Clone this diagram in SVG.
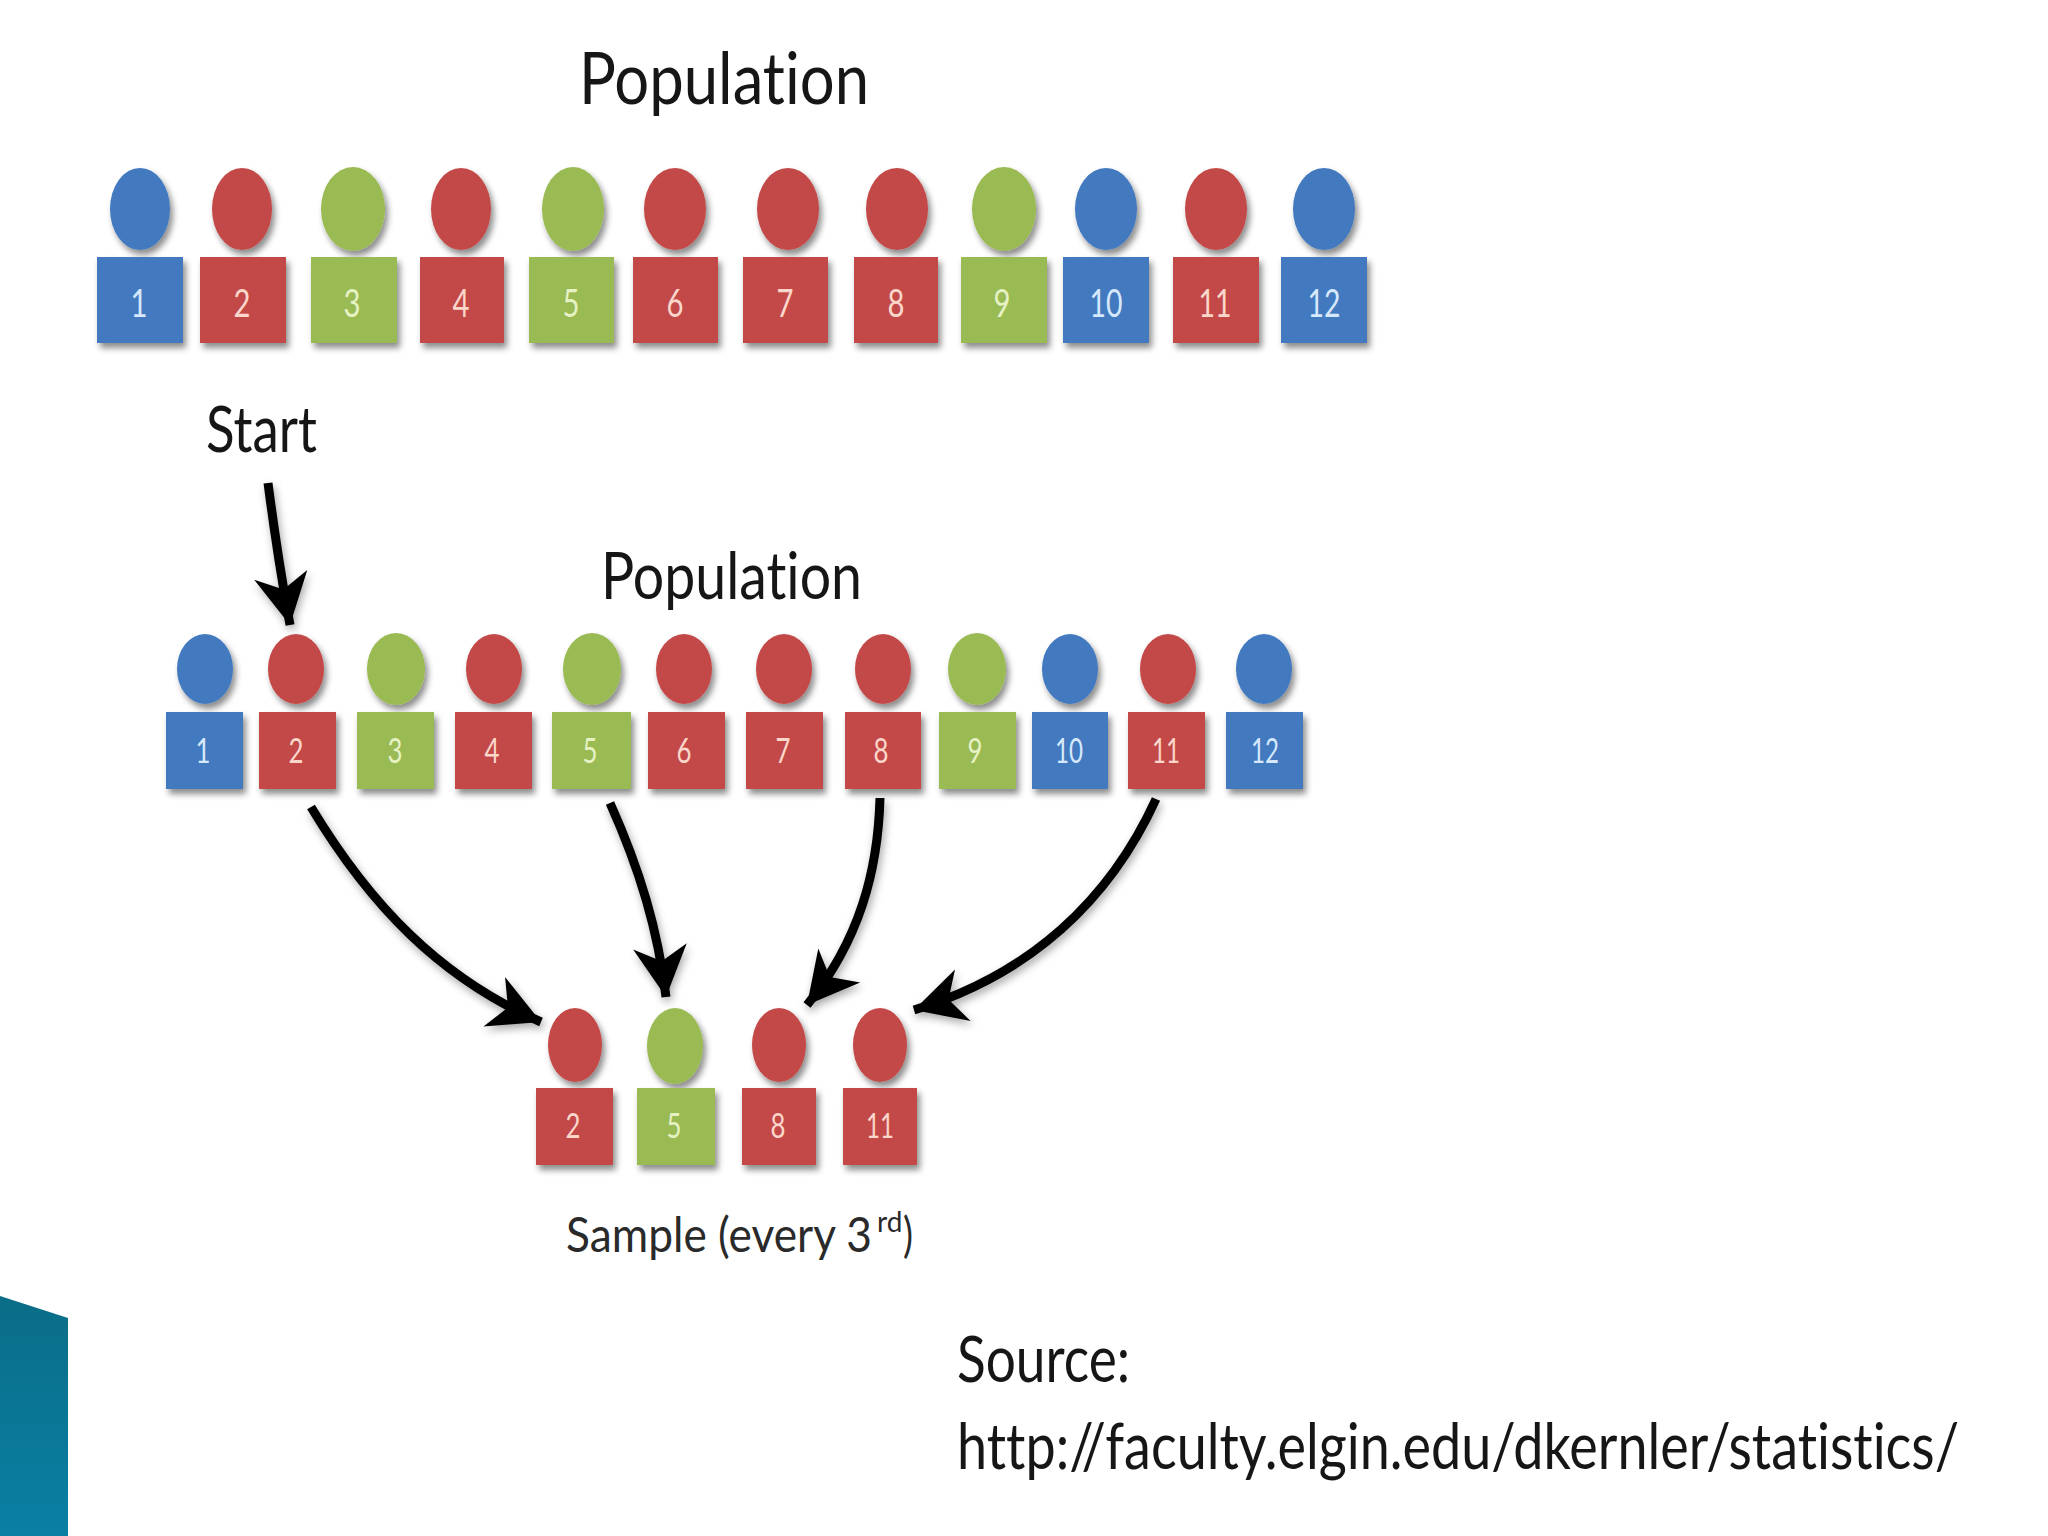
<svg xmlns="http://www.w3.org/2000/svg" width="2048" height="1536" viewBox="0 0 2048 1536">
<style>
text{font-family:"Lato","Liberation Sans",sans-serif;font-variant-ligatures:none}
.t{fill:#161616}
.b{fill:#4279bf}.r{fill:#c34a48}.g{fill:#9aba52}
.s{filter:url(#sh)}
.n{text-anchor:middle}
.a{font-size:38px}.c{font-size:34px}
.lb{fill:#d6e8fb}.lr{fill:#fbd6ca}.lg{fill:#e6f2c4}
.sm{fill:#2a2a2a}
.arr{fill:none;stroke:#000;stroke-width:9;stroke-linecap:butt;marker-end:url(#ah)}
</style>
<defs>
<filter id="sh" x="-20%" y="-20%" width="150%" height="150%"><feDropShadow dx="3" dy="5" stdDeviation="3" flood-color="#000" flood-opacity="0.45"/></filter>
<filter id="sh2" x="-5%" y="-5%" width="115%" height="115%"><feDropShadow dx="2" dy="4" stdDeviation="4" flood-color="#000" flood-opacity="0.35"/></filter>
<marker id="ah" markerUnits="userSpaceOnUse" markerWidth="70" markerHeight="70" refX="60" refY="35" orient="auto"><path d="M60 35L9 8L24 35L9 62Z" fill="#000"/></marker>
<linearGradient id="tl" x1="0" y1="0" x2="0" y2="1"><stop offset="0" stop-color="#0a6d88"/><stop offset="1" stop-color="#0a80a4"/></linearGradient>
</defs>
<rect width="2048" height="1536" fill="#fff"/>
<polygon id="corner" points="0,1296 68,1318 68,1536 0,1536" fill="url(#tl)"/>

<text id="title1" class="t" x="579" y="104" font-size="72" textLength="290" lengthAdjust="spacingAndGlyphs">Population</text>
<text id="start" class="t" x="206" y="452" font-size="64" textLength="111" lengthAdjust="spacingAndGlyphs">Start</text>
<text id="title2" class="t" x="601" y="599" font-size="66" textLength="261" lengthAdjust="spacingAndGlyphs">Population</text>
<text id="sample" class="sm" transform="translate(566 1252) scale(1 1.14)" font-size="42" textLength="306" lengthAdjust="spacingAndGlyphs">Sample (every 3</text>
<text id="sample-sup" class="sm" x="877" y="1232" font-size="28">rd</text>
<text id="sample-end" class="sm" x="903" y="1252" font-size="48" textLength="10" lengthAdjust="spacingAndGlyphs">)</text>
<text id="source1" class="t" x="957" y="1382" font-size="64" textLength="173" lengthAdjust="spacingAndGlyphs">Source:</text>
<text id="source2" class="t" transform="translate(957 1469) scale(.84 1)" font-size="64" textLength="1193" lengthAdjust="spacingAndGlyphs">http://faculty.elgin.edu/dkernler/statistics/</text>

<g id="connectors" filter="url(#sh2)">
<path class="arr" d="M268 483Q278 560 290 625"/>
<path class="arr" d="M311 807C370 905 440 978 541 1022"/>
<path class="arr" d="M610 803C640 870 658 930 666 997"/>
<path class="arr" d="M880 798C878 870 860 940 807 1005"/>
<path class="arr" d="M1156 799C1110 900 1030 975 914 1010"/>
</g>

<g id="row1" class="row">
<g id="a1"><ellipse class="b s" cx="140" cy="209" rx="30" ry="41"/><rect class="b s" x="97" y="257" width="86" height="86"/><text class="n a lb" x="139" y="317" textLength="17" lengthAdjust="spacingAndGlyphs">1</text></g>
<g id="a2"><ellipse class="r s" cx="242" cy="209" rx="30" ry="41"/><rect class="r s" x="200" y="257" width="86" height="86"/><text class="n a lr" x="242" y="317" textLength="17" lengthAdjust="spacingAndGlyphs">2</text></g>
<g id="a3"><ellipse class="g s" cx="353" cy="209" rx="32" ry="42"/><rect class="g s" x="311" y="257" width="86" height="86"/><text class="n a lg" x="352" y="317" textLength="17" lengthAdjust="spacingAndGlyphs">3</text></g>
<g id="a4"><ellipse class="r s" cx="461" cy="209" rx="30" ry="41"/><rect class="r s" x="420" y="257" width="84" height="86"/><text class="n a lr" x="461" y="317" textLength="17" lengthAdjust="spacingAndGlyphs">4</text></g>
<g id="a5"><ellipse class="g s" cx="573" cy="209" rx="31" ry="42"/><rect class="g s" x="529" y="257" width="85" height="86"/><text class="n a lg" x="571" y="317" textLength="17" lengthAdjust="spacingAndGlyphs">5</text></g>
<g id="a6"><ellipse class="r s" cx="675" cy="209" rx="31" ry="41"/><rect class="r s" x="633" y="257" width="85" height="86"/><text class="n a lr" x="675" y="317" textLength="17" lengthAdjust="spacingAndGlyphs">6</text></g>
<g id="a7"><ellipse class="r s" cx="788" cy="209" rx="31" ry="41"/><rect class="r s" x="743" y="257" width="85" height="86"/><text class="n a lr" x="785" y="317" textLength="17" lengthAdjust="spacingAndGlyphs">7</text></g>
<g id="a8"><ellipse class="r s" cx="897" cy="209" rx="31" ry="41"/><rect class="r s" x="854" y="257" width="84" height="86"/><text class="n a lr" x="896" y="317" textLength="17" lengthAdjust="spacingAndGlyphs">8</text></g>
<g id="a9"><ellipse class="g s" cx="1004" cy="209" rx="32" ry="42"/><rect class="g s" x="961" y="257" width="86" height="86"/><text class="n a lg" x="1002" y="317" textLength="17" lengthAdjust="spacingAndGlyphs">9</text></g>
<g id="a10"><ellipse class="b s" cx="1106" cy="209" rx="31" ry="41"/><rect class="b s" x="1063" y="257" width="86" height="86"/><text class="n a lb" x="1106" y="317" textLength="33" lengthAdjust="spacingAndGlyphs">10</text></g>
<g id="a11"><ellipse class="r s" cx="1216" cy="209" rx="31" ry="41"/><rect class="r s" x="1173" y="257" width="86" height="86"/><text class="n a lr" x="1215" y="317" textLength="33" lengthAdjust="spacingAndGlyphs">11</text></g>
<g id="a12"><ellipse class="b s" cx="1324" cy="209" rx="31" ry="41"/><rect class="b s" x="1281" y="257" width="86" height="86"/><text class="n a lb" x="1324" y="317" textLength="33" lengthAdjust="spacingAndGlyphs">12</text></g>
</g>

<g id="row2" class="row">
<g id="b1"><ellipse class="b s" cx="205" cy="669" rx="28" ry="35"/><rect class="b s" x="166" y="712" width="77" height="77"/><text class="n c lb" x="203" y="763" textLength="15" lengthAdjust="spacingAndGlyphs">1</text></g>
<g id="b2"><ellipse class="r s" cx="296" cy="669" rx="28" ry="35"/><rect class="r s" x="259" y="712" width="77" height="77"/><text class="n c lr" x="296" y="763" textLength="15" lengthAdjust="spacingAndGlyphs">2</text></g>
<g id="b3"><ellipse class="g s" cx="396" cy="669" rx="29" ry="36"/><rect class="g s" x="357" y="712" width="77" height="77"/><text class="n c lg" x="395" y="763" textLength="15" lengthAdjust="spacingAndGlyphs">3</text></g>
<g id="b4"><ellipse class="r s" cx="494" cy="669" rx="28" ry="35"/><rect class="r s" x="455" y="712" width="77" height="77"/><text class="n c lr" x="492" y="763" textLength="15" lengthAdjust="spacingAndGlyphs">4</text></g>
<g id="b5"><ellipse class="g s" cx="592" cy="669" rx="29" ry="36"/><rect class="g s" x="552" y="712" width="79" height="77"/><text class="n c lg" x="590" y="763" textLength="15" lengthAdjust="spacingAndGlyphs">5</text></g>
<g id="b6"><ellipse class="r s" cx="684" cy="669" rx="28" ry="35"/><rect class="r s" x="648" y="712" width="77" height="77"/><text class="n c lr" x="684" y="763" textLength="15" lengthAdjust="spacingAndGlyphs">6</text></g>
<g id="b7"><ellipse class="r s" cx="784" cy="669" rx="28" ry="35"/><rect class="r s" x="746" y="712" width="77" height="77"/><text class="n c lr" x="783" y="763" textLength="15" lengthAdjust="spacingAndGlyphs">7</text></g>
<g id="b8"><ellipse class="r s" cx="883" cy="669" rx="28" ry="35"/><rect class="r s" x="845" y="712" width="76" height="77"/><text class="n c lr" x="881" y="763" textLength="15" lengthAdjust="spacingAndGlyphs">8</text></g>
<g id="b9"><ellipse class="g s" cx="977" cy="669" rx="29" ry="36"/><rect class="g s" x="939" y="712" width="77" height="77"/><text class="n c lg" x="975" y="763" textLength="15" lengthAdjust="spacingAndGlyphs">9</text></g>
<g id="b10"><ellipse class="b s" cx="1070" cy="669" rx="28" ry="35"/><rect class="b s" x="1032" y="712" width="76" height="77"/><text class="n c lb" x="1069" y="763" textLength="28" lengthAdjust="spacingAndGlyphs">10</text></g>
<g id="b11"><ellipse class="r s" cx="1168" cy="669" rx="28" ry="35"/><rect class="r s" x="1128" y="712" width="77" height="77"/><text class="n c lr" x="1166" y="763" textLength="28" lengthAdjust="spacingAndGlyphs">11</text></g>
<g id="b12"><ellipse class="b s" cx="1264" cy="669" rx="28" ry="35"/><rect class="b s" x="1226" y="712" width="77" height="77"/><text class="n c lb" x="1265" y="763" textLength="28" lengthAdjust="spacingAndGlyphs">12</text></g>
</g>

<g id="row3" class="row">
<g id="c2"><ellipse class="r s" cx="575" cy="1045" rx="27" ry="37"/><rect class="r s" x="536" y="1088" width="77" height="77"/><text class="n c lr" x="573" y="1138" textLength="15" lengthAdjust="spacingAndGlyphs">2</text></g>
<g id="c5"><ellipse class="g s" cx="675" cy="1046" rx="28" ry="38"/><rect class="g s" x="637" y="1088" width="78" height="77"/><text class="n c lg" x="674" y="1138" textLength="15" lengthAdjust="spacingAndGlyphs">5</text></g>
<g id="c8"><ellipse class="r s" cx="779" cy="1045" rx="27" ry="37"/><rect class="r s" x="742" y="1088" width="74" height="77"/><text class="n c lr" x="778" y="1138" textLength="15" lengthAdjust="spacingAndGlyphs">8</text></g>
<g id="c11"><ellipse class="r s" cx="880" cy="1045" rx="27" ry="37"/><rect class="r s" x="843" y="1088" width="74" height="77"/><text class="n c lr" x="880" y="1138" textLength="28" lengthAdjust="spacingAndGlyphs">11</text></g>
</g>
</svg>
